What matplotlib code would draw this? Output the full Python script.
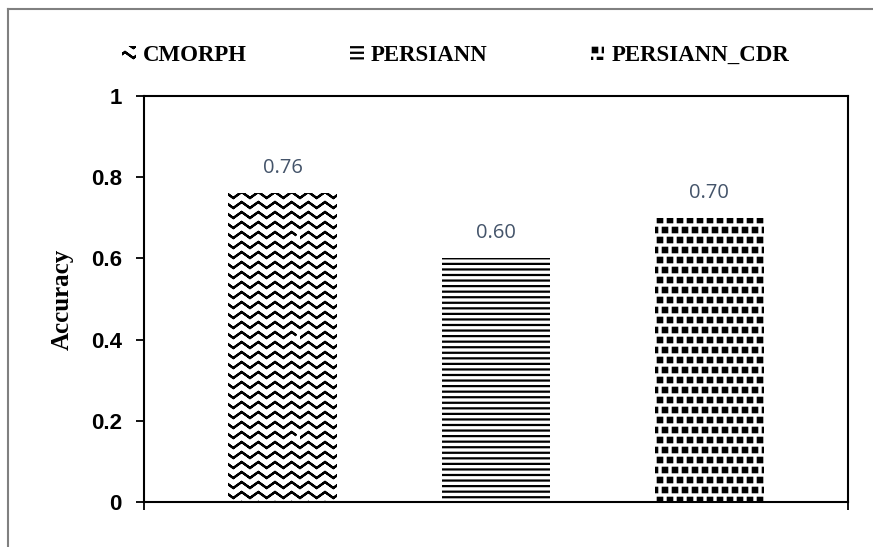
import warnings
import numpy as np
import matplotlib
matplotlib.use("Agg")
import matplotlib.pyplot as plt
import matplotlib.hatch as mhatch
from matplotlib.path import Path
from matplotlib.lines import Line2D

warnings.filterwarnings("ignore")

products = ["CMORPH", "PERSIANN", "PERSIANN_CDR"]
accuracy = [0.76, 0.60, 0.70]
value_labels = ["0.76", "0.60", "0.70"]
y_ticks = [0, 0.2, 0.4, 0.6, 0.8, 1]
y_tick_labels = ["0", "0.2", "0.4", "0.6", "0.8", "1"]


# custom hatch patterns to mimic the Excel fills
class ZigzagHatch(mhatch.HatchPatternBase):
    def __init__(self, hatch, density):
        self.num_rows = hatch.count('~') * 5
        self.teeth = 6
        # each row goes forward and back along itself so the fill has no area
        self.num_vertices = self.num_rows * 2 * (2 * self.teeth + 1)

    def set_vertices_and_codes(self, vertices, codes):
        n = 2 * self.teeth + 1
        xs = np.linspace(0.0, 1.0, n)
        amp = 0.3 / self.num_rows
        offs = np.where(np.arange(n) % 2 == 0, -amp, amp)
        for r in range(self.num_rows):
            yc = (r + 0.5) / self.num_rows
            s = r * 2 * n
            vertices[s:s + n, 0] = xs
            vertices[s:s + n, 1] = yc + offs
            vertices[s + n:s + 2 * n, 0] = xs[::-1]
            vertices[s + n:s + 2 * n, 1] = (yc + offs)[::-1]
            codes[s] = Path.MOVETO
            codes[s + 1:s + 2 * n] = Path.LINETO


class SquareDots(mhatch.Shapes):
    size = 0.22
    filled = True

    def __init__(self, hatch, density):
        self.num_rows = hatch.count('#') * 5
        self.shape_vertices = np.array([[-1, -1], [1, -1], [1, 1], [-1, 1], [-1, -1]], float)
        self.shape_codes = np.array([Path.MOVETO, Path.LINETO, Path.LINETO,
                                     Path.LINETO, Path.CLOSEPOLY], dtype=Path.code_type)
        super().__init__(hatch, density)


mhatch._hatch_types.append(ZigzagHatch)
mhatch._hatch_types.append(SquareDots)

plt.rcParams['hatch.linewidth'] = 1.6
hatches = ['~~', '---', '##']

fig = plt.figure(figsize=(8.73, 5.47), dpi=100)
ax = fig.add_axes([144 / 873, 1 - 502 / 547, (848 - 144) / 873, (502 - 96) / 547])

x = np.arange(len(products))
bars = []
for i in range(len(products)):
    b = ax.bar(x[i], accuracy[i], width=0.51, color='white', edgecolor='black',
               linewidth=0, hatch=hatches[i], label=products[i])
    bars.append(b[0])
    ax.annotate(value_labels[i], (x[i], accuracy[i]), xytext=(0, 11),
                textcoords='offset points', ha='center', va='bottom',
                fontsize=14.5, family='Open Sans', color='#44546A')

ax.set_xlim(-0.65, 2.65)
ax.set_ylim(0, 1)
ax.set_yticks(y_ticks)
ax.set_yticklabels(y_tick_labels, fontsize=16, fontweight='bold',
                   family='Liberation Sans')
ax.set_xticks([-0.65, 2.65])
ax.set_xticklabels([])
ax.tick_params(axis='both', direction='out', length=6, width=1.3, colors='black')
ax.tick_params(axis='y', pad=10)
for s in ax.spines.values():
    s.set_linewidth(1.5)
    s.set_color('black')
ax.set_ylabel('Accuracy', fontsize=18, fontweight='bold', family='Liberation Serif',
              labelpad=12)

fig.legend(handles=bars, labels=products, loc='center', bbox_to_anchor=(0.522, 0.898),
           ncol=3, frameon=False, handlelength=0.6, handleheight=0.6,
           handletextpad=0.3, columnspacing=4.5,
           prop={'family': 'Liberation Serif', 'weight': 'bold', 'size': 16.5})

# outer chart frame (grey, only left and top visible)
fig.add_artist(Line2D([8 / 873, 8 / 873], [0, 1 - 9 / 547], transform=fig.transFigure,
                      color='#808080', lw=1.5))
fig.add_artist(Line2D([8 / 873, 1], [1 - 9 / 547, 1 - 9 / 547], transform=fig.transFigure,
                      color='#808080', lw=1.5))

fig.savefig('out.png', dpi=100)
